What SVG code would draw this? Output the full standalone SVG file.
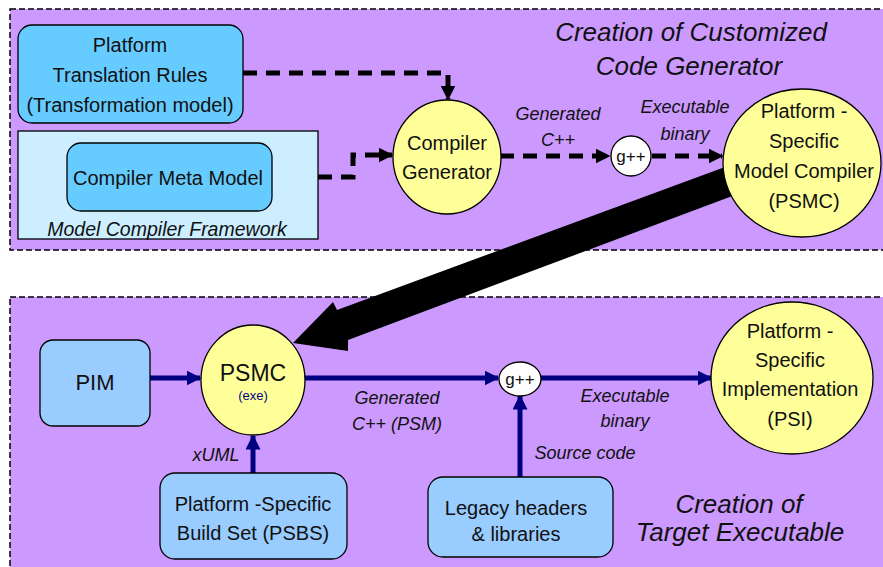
<svg xmlns="http://www.w3.org/2000/svg" width="883" height="567" viewBox="0 0 883 567">
  <defs>
    <marker id="headBlack" viewBox="0 0 10 10" refX="9" refY="5" markerWidth="3" markerHeight="3" orient="auto" markerUnits="strokeWidth">
      <path d="M0,0 L10,5 L0,10 Z" fill="#000"/>
    </marker>
    <marker id="headNavy" viewBox="0 0 10 10" refX="9" refY="5" markerWidth="3" markerHeight="3" orient="auto" markerUnits="strokeWidth">
      <path d="M0,0 L10,5 L0,10 Z" fill="#000080"/>
    </marker>
  </defs>
  <style>
    text { font-family: "Liberation Sans", Arial, sans-serif; fill: #111; }
    .panel { fill: #cc99ff; stroke: #000; stroke-width: 1.5; stroke-dasharray: 6 3; }
    .boxTop { fill: #66ccff; stroke: #000; stroke-width: 1.3; }
    .boxBot { fill: #99ccff; stroke: #000; stroke-width: 1.3; }
    .frame { fill: #cceeff; stroke: #000; stroke-width: 1.3; }
    .proc { fill: #ffff99; stroke: #000; stroke-width: 1.3; }
    .tool { fill: #fff; stroke: #000; stroke-width: 1.3; }
    .dash { fill: none; stroke: #000; stroke-width: 5; stroke-dasharray: 14 9; marker-end: url(#headBlack); }
    .flow { fill: none; stroke: #000080; stroke-width: 5; marker-end: url(#headNavy); }
    .lbl { font-size: 20px; text-anchor: middle; }
    .edge { font-size: 18px; font-style: italic; text-anchor: middle; }
    .title { font-size: 26px; font-style: italic; text-anchor: middle; }
    .gpp { font-size: 17px; text-anchor: middle; }
  </style>

  <!-- panels -->
  <rect class="panel" x="10" y="9" width="885" height="241"/>
  <rect class="panel" x="10" y="297" width="885" height="280"/>

  <!-- panel titles -->
  <text class="title" x="691" y="41">Creation of Customized</text>
  <text class="title" x="689" y="75">Code Generator</text>
  <text class="title" x="739" y="513">Creation of</text>
  <text class="title" x="740" y="541">Target Executable</text>

  <!-- upper stage nodes -->
  <g id="translation-rules">
    <rect class="boxTop" x="18" y="25" width="225" height="98" rx="14"/>
    <text class="lbl" x="130" y="52">Platform</text>
    <text class="lbl" x="130" y="82">Translation Rules</text>
    <text class="lbl" x="130" y="112">(Transformation model)</text>
  </g>
  <g id="model-compiler-framework">
    <rect class="frame" x="18" y="131" width="300" height="108"/>
    <text x="167" y="236" font-size="19.5" font-style="italic" text-anchor="middle">Model Compiler Framework</text>
  </g>
  <g id="compiler-meta-model">
    <rect class="boxTop" x="67" y="143" width="205" height="68" rx="14"/>
    <text class="lbl" x="168" y="185">Compiler Meta Model</text>
  </g>

  <!-- connectors -->
  <g id="connectors">
    <path class="dash" d="M243,73 H448 V99"/>
    <path class="dash" d="M318,177 H353 V155 H392"/>
    <path class="dash" d="M500,156 H609"/>
    <path class="dash" d="M652,156 H722"/>
    <!-- hand-off of the built compiler to the lower stage -->
    <polygon points="725,167 337,310 333,302 293,343 348,351 348,340 735,195" fill="#000"/>
    <path class="flow" d="M150,378 H200"/>
    <path class="flow" d="M253,474 V436"/>
    <path class="flow" d="M304,378 H498"/>
    <path class="flow" d="M541,378 H711"/>
    <path class="flow" d="M520,477 V396"/>
  </g>

  <!-- edge labels -->
  <text class="edge" x="558" y="120">Generated</text>
  <text class="edge" x="558" y="146">C++</text>
  <text class="edge" x="685" y="113">Executable</text>
  <text class="edge" x="685" y="140">binary</text>
  <text class="edge" x="397" y="404">Generated</text>
  <text class="edge" x="397" y="430">C++ (PSM)</text>
  <text class="edge" x="625" y="402">Executable</text>
  <text class="edge" x="625" y="427">binary</text>
  <text class="edge" x="216" y="461">xUML</text>
  <text class="edge" x="585" y="459">Source code</text>

  <g id="compiler-generator">
    <ellipse class="proc" cx="447" cy="157" rx="54" ry="57"/>
    <text class="lbl" x="447" y="150">Compiler</text>
    <text class="lbl" x="447" y="179">Generator</text>
  </g>
  <g id="gpp-top">
    <ellipse class="tool" cx="631" cy="156" rx="20" ry="20"/>
    <text class="gpp" x="631" y="162">g++</text>
  </g>
  <g id="psmc">
    <ellipse class="proc" cx="802" cy="163" rx="79" ry="74"/>
    <text class="lbl" x="804" y="118">Platform -</text>
    <text class="lbl" x="804" y="148">Specific</text>
    <text class="lbl" x="804" y="178">Model Compiler</text>
    <text class="lbl" x="804" y="208">(PSMC)</text>
  </g>

  <!-- lower stage nodes -->
  <g id="pim">
    <rect class="boxBot" x="40" y="340" width="110" height="86" rx="13"/>
    <text x="95" y="390" font-size="22" text-anchor="middle">PIM</text>
  </g>
  <g id="psmc-exe">
    <ellipse class="proc" cx="253" cy="380" rx="52" ry="55"/>
    <text x="253" y="381" font-size="23" text-anchor="middle">PSMC</text>
    <text x="253" y="400" font-size="13" text-anchor="middle" style="fill:#000080">(exe)</text>
  </g>
  <g id="psbs">
    <rect class="boxBot" x="160" y="473" width="187" height="86" rx="15"/>
    <text class="lbl" x="253" y="511">Platform -Specific</text>
    <text class="lbl" x="253" y="540">Build Set (PSBS)</text>
  </g>
  <g id="gpp-bottom">
    <ellipse class="tool" cx="520" cy="379" rx="21" ry="17"/>
    <text class="gpp" x="520" y="385">g++</text>
  </g>
  <g id="legacy">
    <rect class="boxBot" x="428" y="477" width="185" height="80" rx="15"/>
    <text class="lbl" x="516" y="515">Legacy headers</text>
    <text class="lbl" x="516" y="541">&amp; libraries</text>
  </g>
  <g id="psi">
    <ellipse class="proc" cx="792" cy="378" rx="81" ry="76"/>
    <text class="lbl" x="790" y="338">Platform -</text>
    <text class="lbl" x="790" y="367">Specific</text>
    <text class="lbl" x="790" y="396">Implementation</text>
    <text class="lbl" x="790" y="426">(PSI)</text>
  </g>
</svg>
